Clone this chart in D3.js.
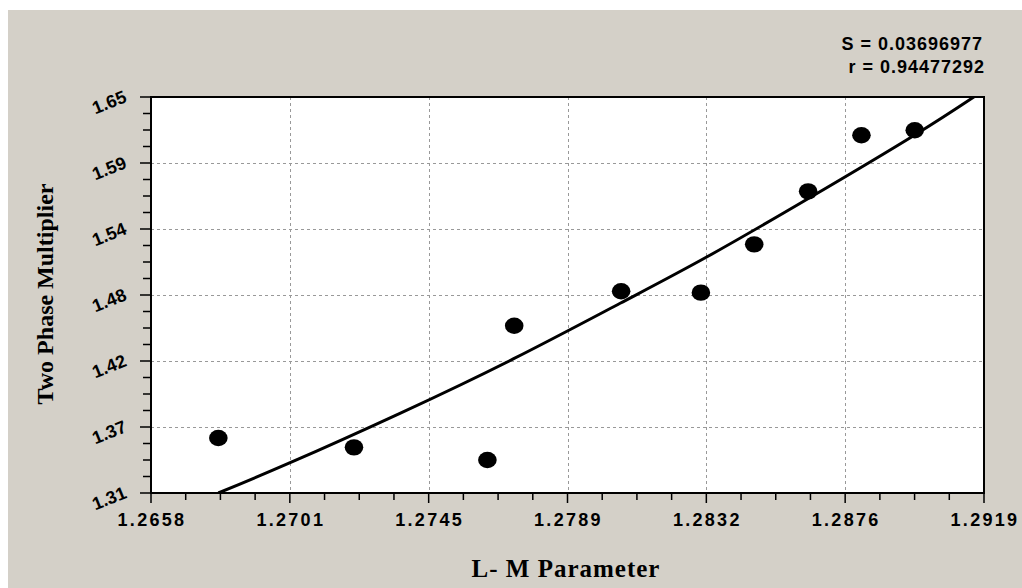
<!DOCTYPE html>
<html>
<head>
<meta charset="utf-8">
<script src="https://cdn.jsdelivr.net/npm/d3@7"></script>
<style>
	body { margin: 0; background: #fff; }
	svg { display: block; }
</style>
</head>
<body>
<svg id="chart"></svg>
<script>
// observed points
const lmParam = [1.26791, 1.27216, 1.27634, 1.27718, 1.28053, 1.28303, 1.28470, 1.28639, 1.28806, 1.28973];
const multiplier = [1.3572, 1.3492, 1.3383, 1.4536, 1.4832, 1.4820, 1.5235, 1.5690, 1.6171, 1.6214];

// fitted curve
const fitX = [1.26791, 1.27016, 1.27360, 1.27715, 1.28050, 1.28321, 1.28645, 1.28973, 1.29169];
const fitY = [1.3100, 1.3360, 1.3784, 1.4251, 1.4729, 1.5126, 1.5637, 1.6174, 1.6520];

const xTickLabels = ['1.2658', '1.2701', '1.2745', '1.2789', '1.2832', '1.2876', '1.2919'];
const yTickLabels = ['1.31', '1.37', '1.42', '1.48', '1.54', '1.59', '1.65'];
const xDomain = [1.2658, 1.2919],
	yDomain = [1.31, 1.65];

const statLines = ['S = 0.03696977', 'r = 0.94477292'];

const width = 1022,
	height = 588,
	plot = { left: 151, right: 984, top: 97, bottom: 493 };

const x = d3.scaleLinear().domain(xDomain).range([plot.left, plot.right]);
const y = d3.scaleLinear().domain(yDomain).range([plot.bottom, plot.top]);

const majorCount = xTickLabels.length - 1;
const xMajor = d3.range(majorCount + 1).map(i => xDomain[0] + i * (xDomain[1] - xDomain[0]) / majorCount);
const yMajor = d3.range(majorCount + 1).map(i => yDomain[0] + i * (yDomain[1] - yDomain[0]) / majorCount);
const xMinor = d3.range(majorCount * 4 + 1).map(i => xDomain[0] + i * (xDomain[1] - xDomain[0]) / (majorCount * 4));
const yMinor = d3.range(majorCount * 4 + 1).map(i => yDomain[0] + i * (yDomain[1] - yDomain[0]) / (majorCount * 4));

const svg = d3.select('#chart')
	.attr('width', width)
	.attr('height', height);

// grey panel
svg.append('rect')
	.attr('x', 8).attr('y', 10)
	.attr('width', width - 8).attr('height', height - 10)
	.attr('fill', '#d4d0c8');

svg.append('rect')
	.attr('x', plot.left).attr('y', plot.top)
	.attr('width', plot.right - plot.left).attr('height', plot.bottom - plot.top)
	.attr('fill', '#fff');

svg.append('clipPath').attr('id', 'plotClip')
	.append('rect')
	.attr('x', plot.left).attr('y', plot.top)
	.attr('width', plot.right - plot.left).attr('height', plot.bottom - plot.top);

// dashed grid
const grid = svg.append('g')
	.attr('stroke', '#999')
	.attr('stroke-width', 1)
	.attr('stroke-dasharray', '3,3');

grid.selectAll('line.gx')
	.data(xMajor.slice(1, -1))
	.join('line')
	.attr('class', 'gx')
	.attr('x1', d => Math.round(x(d)) + 0.5).attr('x2', d => Math.round(x(d)) + 0.5)
	.attr('y1', plot.top).attr('y2', plot.bottom);

grid.selectAll('line.gy')
	.data(yMajor.slice(1, -1))
	.join('line')
	.attr('class', 'gy')
	.attr('y1', d => Math.round(y(d)) + 0.5).attr('y2', d => Math.round(y(d)) + 0.5)
	.attr('x1', plot.left).attr('x2', plot.right);

// ticks
const ticks = svg.append('g').attr('stroke', '#000').attr('stroke-width', 1.5);

ticks.selectAll('line.tx')
	.data(xMinor)
	.join('line')
	.attr('class', 'tx')
	.attr('x1', d => x(d)).attr('x2', d => x(d))
	.attr('y1', plot.bottom)
	.attr('y2', (d, i) => plot.bottom + (i % 4 === 0 ? 10 : 7));

ticks.selectAll('line.ty')
	.data(yMinor)
	.join('line')
	.attr('class', 'ty')
	.attr('y1', d => y(d)).attr('y2', d => y(d))
	.attr('x2', plot.left)
	.attr('x1', (d, i) => plot.left - (i % 4 === 0 ? 11 : 8));

// frame
svg.append('rect')
	.attr('x', plot.left).attr('y', plot.top)
	.attr('width', plot.right - plot.left).attr('height', plot.bottom - plot.top)
	.attr('fill', 'none')
	.attr('stroke', '#000')
	.attr('stroke-width', 2);

// tick labels
svg.append('g')
	.selectAll('text')
	.data(xMajor)
	.join('text')
	.attr('x', d => x(d) + 1)
	.attr('y', 526)
	.attr('text-anchor', 'middle')
	.style('font', 'bold 18px "Liberation Sans", Arial, sans-serif')
	.style('letter-spacing', '2.3px')
	.text((d, i) => xTickLabels[i]);

svg.append('g')
	.selectAll('text')
	.data(yMajor)
	.join('text')
	.attr('transform', d => `translate(109,${y(d) + 5}) rotate(-22)`)
	.attr('text-anchor', 'middle')
	.attr('dy', '0.36em')
	.style('font', 'bold 18px "Liberation Sans", Arial, sans-serif')
	.text((d, i) => yTickLabels[i]);

// fit line
const fit = fitX.map((v, i) => [v, fitY[i]]);
const line = d3.line()
	.x(d => x(d[0]))
	.y(d => y(d[1]))
	.curve(d3.curveNatural);

svg.append('path')
	.datum(fit)
	.attr('clip-path', 'url(#plotClip)')
	.attr('d', line)
	.attr('fill', 'none')
	.attr('stroke', '#000')
	.attr('stroke-width', 3);

// points
svg.append('g')
	.selectAll('ellipse')
	.data(lmParam)
	.join('ellipse')
	.attr('cx', d => x(d))
	.attr('cy', (d, i) => y(multiplier[i]))
	.attr('rx', 9.3)
	.attr('ry', 8.2)
	.attr('fill', '#000');

// stats
svg.append('g')
	.selectAll('text')
	.data(statLines)
	.join('text')
	.attr('x', (d, i) => i === 0 ? 983 : 985)
	.attr('y', (d, i) => 50 + i * 22.5)
	.attr('text-anchor', 'end')
	.style('font', 'bold 18px "Liberation Sans", Arial, sans-serif')
	.style('letter-spacing', '1px')
	.text(d => d);

// axis titles
svg.append('text')
	.attr('x', 566)
	.attr('y', 577)
	.attr('text-anchor', 'middle')
	.style('font', 'bold 25px "Liberation Serif", "Times New Roman", serif')
	.style('letter-spacing', '1px')
	.text('L- M Parameter');

svg.append('text')
	.attr('transform', 'translate(53,294) rotate(-90)')
	.attr('text-anchor', 'middle')
	.style('font', 'bold 24px "Liberation Serif", "Times New Roman", serif')
	.text('Two Phase Multiplier');
</script>
</body>
</html>
